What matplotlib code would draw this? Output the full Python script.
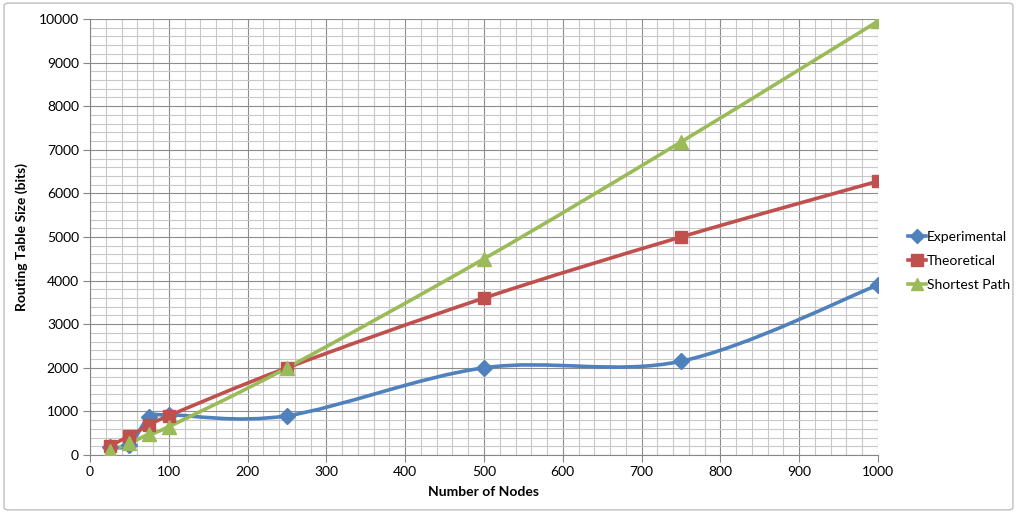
import numpy as np
import matplotlib.pyplot as plt
from matplotlib.path import Path
from matplotlib.patches import PathPatch, FancyBboxPatch
from matplotlib.lines import Line2D
from matplotlib.ticker import MultipleLocator

plt.rcParams['font.family'] = ['Lato', 'DejaVu Sans']

nodes = [25, 50, 75, 100, 250, 500, 750, 1000]
experimental = [180, 230, 870, 920, 900, 2000, 2150, 3900]
theoretical = [200, 440, 680, 900, 2000, 3600, 5000, 6280]
shortest_path = [100, 270, 480, 650, 2000, 4500, 7180, 9950]

series = [
    ("Experimental", experimental, "#4F81BD", "D", 8),
    ("Theoretical", theoretical, "#C0504D", "s", 9),
    ("Shortest Path", shortest_path, "#9BBB59", "^", 10),
]


# smooth line like excel, bezier segments between the points
def smooth_path(x, y):
    pts = np.column_stack([x, y]).astype(float)
    n = len(pts)
    verts = [pts[0]]
    codes = [Path.MOVETO]
    for i in range(n - 1):
        p0 = pts[max(i - 1, 0)]
        p1 = pts[i]
        p2 = pts[i + 1]
        p3 = pts[min(i + 2, n - 1)]
        c1 = p1 + (p2 - p0) / 6.0
        c2 = p2 - (p3 - p1) / 6.0
        verts += [c1, c2, p2]
        codes += [Path.CURVE4] * 3
    return Path(verts, codes)


fig = plt.figure(figsize=(10.17, 5.13), dpi=100)
ax = fig.add_axes([90 / 1017, 1 - 455 / 513, (878 - 90) / 1017, (455 - 19) / 513])

border = FancyBboxPatch((0.004, 0.006), 0.992, 0.988, boxstyle="round,pad=0,rounding_size=0.005",
                        transform=fig.transFigure, facecolor="none", edgecolor="#BFBFBF", lw=1)
fig.patches.append(border)

ax.set_xlim(0, 1000)
ax.set_ylim(0, 10000)
ax.xaxis.set_major_locator(MultipleLocator(100))
ax.xaxis.set_minor_locator(MultipleLocator(20))
ax.yaxis.set_major_locator(MultipleLocator(1000))
ax.yaxis.set_minor_locator(MultipleLocator(200))
ax.grid(which="minor", color="#C8C8C8", lw=0.8)
ax.grid(which="major", color="#8C8C8C", lw=0.8)
ax.set_axisbelow(True)
for s in ["top", "right"]:
    ax.spines[s].set_visible(False)
for s in ["left", "bottom"]:
    ax.spines[s].set_color("#868686")
ax.tick_params(which="major", length=5, color="#868686", labelsize=10, pad=3)
ax.tick_params(which="minor", length=0)

handles = []
for name, vals, col, mk, ms in series:
    ax.add_patch(PathPatch(smooth_path(nodes, vals), facecolor="none", edgecolor=col, lw=2.6, zorder=3))
    ax.plot(nodes, vals, linestyle="none", marker=mk, color=col, ms=ms, zorder=4)
    handles.append(Line2D([], [], color=col, lw=2.6, marker=mk, ms=ms - 1, label=name))

ax.set_xlabel("Number of Nodes", fontsize=10, fontweight="bold", labelpad=6)
ax.set_ylabel("Routing Table Size (bits)", fontsize=10, fontweight="bold", labelpad=8)

fig.legend(handles=handles, loc="center left", bbox_to_anchor=(898 / 1017, 1 - 261 / 513),
           frameon=False, fontsize=10, handlelength=1.3, handletextpad=0.1, labelspacing=0.85,
           borderpad=0.2)

fig.savefig("out.png", dpi=100)
